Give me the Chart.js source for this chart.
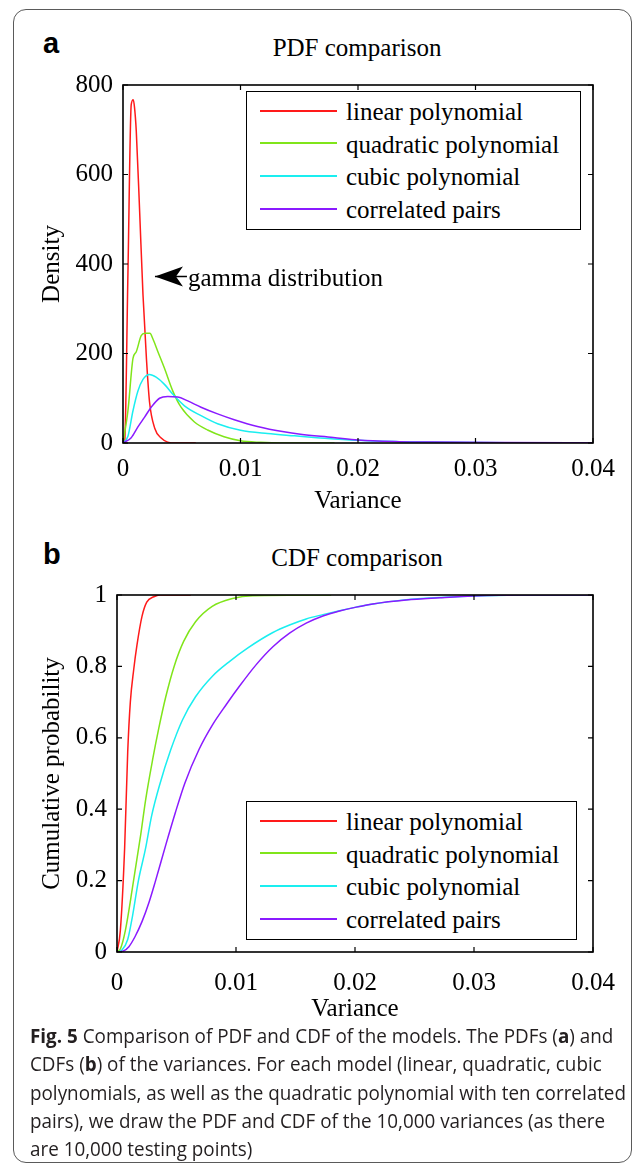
<!DOCTYPE html>
<html>
<head>
<meta charset="utf-8">
<title>PDF and CDF comparison</title>
<script src="https://cdn.jsdelivr.net/npm/chart.js@4.4.1/dist/chart.umd.min.js"></script>
<style>
  html, body { margin: 0; padding: 0; background: #fff; }
  #page { position: relative; width: 636px; height: 1166px; overflow: hidden; }
  #frame { position: absolute; left: 13px; top: 9px; width: 619px; height: 1154px; border: 1.5px solid #5a5a5a; border-radius: 13px; box-sizing: border-box; }
  canvas { position: absolute; left: 0; }
  .serif { font-family: "Liberation Serif", "Times New Roman", serif; color: #000; }
  .panel { position: absolute; left: 43px; font: bold 29px/29px "Liberation Sans", Arial, sans-serif; color: #000; }
  .title { position: absolute; left: 207px; width: 300px; text-align: center; font-size: 25px; line-height: 25px; white-space: nowrap; }
  .legend { position: absolute; border: 1.5px solid #000; background: #fff; box-sizing: border-box; }
  .legend .sw { position: absolute; left: 13px; width: 77px; height: 2px; }
  .legend .lab { position: absolute; left: 99px; font-size: 25px; line-height: 25px; white-space: nowrap; }
  #caption { position: absolute; left: 30px; top: 1022px; font-family: "Open Sans", sans-serif; font-size: 20px; line-height: 28.3px; color: #231f20; transform-origin: 0 0; }
  #caption div { white-space: nowrap; }
  #caption span { display: inline-block; }
</style>
</head>
<body>
<div id="page">
  <div id="frame"></div>

  <div class="panel" style="top:29px">a</div>
  <div class="title serif" style="top:35px">PDF comparison</div>
  <canvas id="pdfChart" width="636" height="460" style="top:60px"></canvas>
  <div class="legend serif" id="pdfLegend" style="left:246px;top:91px;width:335px;height:139px"></div>

  <div class="panel" style="top:540px">b</div>
  <div class="title serif" style="top:545px">CDF comparison</div>
  <canvas id="cdfChart" width="636" height="460" style="top:570px"></canvas>
  <div class="legend serif" id="cdfLegend" style="left:246px;top:801px;width:331px;height:139px"></div>

  <div id="caption">
    <div><span><b>Fig. 5</b> Comparison of PDF and CDF of the models. The PDFs (<b>a</b>) and</span></div>
    <div><span>CDFs (<b>b</b>) of the variances. For each model (linear, quadratic, cubic</span></div>
    <div><span>polynomials, as well as the quadratic polynomial with ten correlated</span></div>
    <div><span>pairs), we draw the PDF and CDF of the 10,000 variances (as there</span></div>
    <div><span>are 10,000 testing points)</span></div>
  </div>
</div>

<script>
const SERIF = '"Liberation Serif", "Times New Roman", serif';

const seriesNames = ['linear polynomial', 'quadratic polynomial', 'cubic polynomial', 'correlated pairs'];
const seriesColors = ['#ff1a1a', '#80e51a', '#1aeef0', '#8a1aff'];

const xTickVals = [0, 0.01, 0.02, 0.03, 0.04];
const xTickLabels = ['0', '0.01', '0.02', '0.03', '0.04'];
const pdfTickVals = [0, 200, 400, 600, 800];
const pdfTickLabels = ['0', '200', '400', '600', '800'];
const cdfTickVals = [0, 0.2, 0.4, 0.6, 0.8, 1];
const cdfTickLabels = ['0', '0.2', '0.4', '0.6', '0.8', '1'];

// panel a: densities
const pdfLinearX = [0, 0.00014, 0.00042, 0.0007, 0.00087, 0.00098, 0.00113, 0.00142, 0.0017, 0.002, 0.00226, 0.0027, 0.00325, 0.0038, 0.0045, 0.0062];
const pdfLinearY = [0, 3, 379, 756, 767, 750, 697, 515, 332, 186, 91, 33, 11, 2, 0, 0];
const pdfQuadX = [0, 0.00042, 0.00085, 0.00113, 0.00155, 0.00186, 0.00229, 0.00254, 0.00297, 0.00353, 0.00424, 0.00494, 0.00608, 0.0072, 0.0086, 0.01, 0.0117, 0.0135, 0.018];
const pdfQuadY = [0, 72, 189, 204, 240, 245, 245, 233, 204, 167, 116, 80, 47, 29, 14, 5, 1.5, 0, 0];
const pdfCubicX = [0, 0.00042, 0.00085, 0.00127, 0.0017, 0.00226, 0.00282, 0.00353, 0.00424, 0.00523, 0.00664, 0.00805, 0.01, 0.0123, 0.0146, 0.0165, 0.0198, 0.0235, 0.0277, 0.033, 0.04];
const pdfCubicY = [0, 15, 72, 116, 142, 153, 147, 131, 109, 83, 61, 43, 28.5, 21, 16, 12, 6, 3, 1.5, 0.7, 0.3];
const pdfPairsX = [0, 0.0007, 0.00127, 0.00184, 0.0024, 0.00311, 0.00381, 0.00466, 0.00551, 0.00664, 0.00805, 0.00947, 0.01144, 0.0137, 0.0151, 0.0179, 0.02, 0.0235, 0.0263, 0.032, 0.04];
const pdfPairsY = [0, 12, 36, 58, 80, 100, 104, 103, 94, 80, 65, 52, 37, 25, 19.7, 12.5, 6.6, 3, 2, 1, 0.5];

// panel b: cumulative
const cdfLinearX = [0, 0.00028, 0.00064, 0.0009, 0.00112, 0.0014, 0.00168, 0.0021, 0.0025, 0.0031, 0.0036, 0.0062];
const cdfLinearY = [0, 0.06, 0.29, 0.56, 0.70, 0.79, 0.86, 0.94, 0.98, 0.995, 1, 1];
const cdfQuadX = [0, 0.0003, 0.0007, 0.0013, 0.002, 0.0024, 0.003, 0.0035, 0.0041, 0.0048, 0.0056, 0.0066, 0.008, 0.0097, 0.0114, 0.018];
const cdfQuadY = [0, 0.01, 0.06, 0.18, 0.33, 0.425, 0.54, 0.625, 0.715, 0.8, 0.87, 0.925, 0.968, 0.99, 0.998, 1];
const cdfCubicX = [0, 0.0004, 0.0009, 0.0013, 0.0018, 0.0024, 0.0029, 0.0036, 0.0045, 0.0055, 0.0066, 0.008, 0.0095, 0.011, 0.0131, 0.0145, 0.0159, 0.0173, 0.0187, 0.0201, 0.0215, 0.0243, 0.0271, 0.0299, 0.034, 0.04];
const cdfCubicY = [0, 0.005, 0.035, 0.1, 0.2, 0.29, 0.38, 0.47, 0.565, 0.65, 0.715, 0.772, 0.815, 0.852, 0.895, 0.916, 0.933, 0.945, 0.956, 0.966, 0.975, 0.987, 0.993, 0.997, 1, 1];
const cdfPairsX = [0, 0.0005, 0.001, 0.0015, 0.0021, 0.0027, 0.0032, 0.0041, 0.0049, 0.0057, 0.0069, 0.008, 0.0092, 0.0103, 0.0117, 0.0131, 0.0145, 0.0159, 0.0173, 0.0187, 0.0201, 0.0215, 0.0243, 0.0271, 0.0299, 0.0341, 0.04];
const cdfPairsY = [0, 0.002, 0.015, 0.042, 0.085, 0.14, 0.195, 0.3, 0.39, 0.473, 0.568, 0.635, 0.694, 0.745, 0.805, 0.855, 0.893, 0.921, 0.941, 0.955, 0.966, 0.975, 0.986, 0.992, 0.997, 1, 1];

const gammaText = 'gamma distribution';
const gammaAt = [0.00272, 372];

// matlab style box with inward ticks on all four sides
const boxTicks = {
  id: 'boxTicks',
  afterDatasetsDraw(chart) {
    const { ctx, chartArea: a, scales: { x, y } } = chart;
    ctx.save();
    ctx.strokeStyle = '#000';
    ctx.lineWidth = 1.2;
    ctx.beginPath();
    x.ticks.forEach(t => {
      const px = x.getPixelForValue(t.value);
      ctx.moveTo(px, a.bottom); ctx.lineTo(px, a.bottom - 5);
      ctx.moveTo(px, a.top); ctx.lineTo(px, a.top + 5);
    });
    y.ticks.forEach(t => {
      const py = y.getPixelForValue(t.value);
      ctx.moveTo(a.left, py); ctx.lineTo(a.left + 5, py);
      ctx.moveTo(a.right, py); ctx.lineTo(a.right - 5, py);
    });
    ctx.stroke();
    ctx.lineWidth = 1.6;
    ctx.strokeRect(a.left, a.top, a.right - a.left, a.bottom - a.top);
    ctx.restore();
  }
};

const gammaNote = {
  id: 'gammaNote',
  afterDraw(chart) {
    const { ctx, scales: { x, y } } = chart;
    const tx = x.getPixelForValue(gammaAt[0]);
    const ty = y.getPixelForValue(gammaAt[1]);
    ctx.save();
    ctx.fillStyle = '#000';
    ctx.strokeStyle = '#000';
    ctx.lineWidth = 1.5;
    ctx.beginPath();
    ctx.moveTo(tx, ty); ctx.lineTo(tx + 32, ty);
    ctx.stroke();
    ctx.beginPath();
    ctx.moveTo(tx, ty);
    ctx.lineTo(tx + 28, ty - 10);
    ctx.lineTo(tx + 21, ty);
    ctx.lineTo(tx + 28, ty + 10);
    ctx.closePath();
    ctx.fill();
    ctx.font = '25px ' + SERIF;
    ctx.textAlign = 'left';
    ctx.textBaseline = 'alphabetic';
    ctx.fillText(gammaText, tx + 33, ty + 9.5);
    ctx.restore();
  }
};

function drawPanel(canvasId, xs, ys, cfg) {
  const datasets = seriesNames.map((name, i) => ({
    label: name,
    data: xs[i].map((v, j) => ({ x: v, y: ys[i][j] })),
    borderColor: seriesColors[i],
    borderWidth: 1.5,
    pointRadius: 0,
    cubicInterpolationMode: 'monotone',
    fill: false,
    order: seriesNames.length - i
  }));
  const tickFont = { family: SERIF, size: 25 };
  return new Chart(document.getElementById(canvasId), {
    type: 'line',
    data: { datasets },
    plugins: cfg.plugins,
    options: {
      responsive: false,
      animation: false,
      events: [],
      layout: { padding: { top: cfg.padTop, right: 43, left: 0, bottom: 0 } },
      plugins: { legend: { display: false }, tooltip: { enabled: false } },
      scales: {
        x: {
          type: 'linear', min: 0, max: 0.04,
          grid: { display: false, drawTicks: false },
          border: { display: false },
          afterBuildTicks: s => { s.ticks = xTickVals.map(v => ({ value: v })); },
          afterFit: s => { s.height = cfg.xHeight; },
          ticks: { autoSkip: false, maxRotation: 0, padding: cfg.xPad, color: '#000', font: tickFont,
                   callback: (v, i) => xTickLabels[i] },
          title: { display: true, text: 'Variance', color: '#000', font: tickFont,
                   padding: { top: 0, bottom: cfg.xTitlePad } }
        },
        y: {
          type: 'linear', min: cfg.yVals[0], max: cfg.yVals[cfg.yVals.length - 1],
          grid: { display: false, drawTicks: false },
          border: { display: false },
          afterBuildTicks: s => { s.ticks = cfg.yVals.map(v => ({ value: v })); },
          afterFit: s => { s.width = cfg.left; },
          ticks: { autoSkip: false, padding: 10, color: '#000', font: tickFont,
                   callback: (v, i) => cfg.yLabels[i] },
          title: { display: true, text: cfg.yTitle, color: '#000', font: tickFont,
                   padding: { top: cfg.yTitlePad, bottom: 0 } }
        }
      }
    }
  });
}

function buildLegend(id) {
  const box = document.getElementById(id);
  seriesNames.forEach((name, i) => {
    const lineY = 18.5 + i * 32.7;
    const sw = document.createElement('div');
    sw.className = 'sw';
    sw.style.top = (lineY - 1) + 'px';
    sw.style.background = seriesColors[i];
    const lab = document.createElement('div');
    lab.className = 'lab';
    lab.style.top = (lineY - 11.6) + 'px';
    lab.textContent = name;
    box.appendChild(sw);
    box.appendChild(lab);
  });
}

drawPanel('pdfChart',
  [pdfLinearX, pdfQuadX, pdfCubicX, pdfPairsX],
  [pdfLinearY, pdfQuadY, pdfCubicY, pdfPairsY],
  { padTop: 18, xHeight: 77, xPad: 11, xTitlePad: 4, left: 123,
    yVals: pdfTickVals, yLabels: pdfTickLabels, yTitle: 'Density', yTitlePad: 37,
    plugins: [boxTicks, gammaNote] });

drawPanel('cdfChart',
  [cdfLinearX, cdfQuadX, cdfCubicX, cdfPairsX],
  [cdfLinearY, cdfQuadY, cdfCubicY, cdfPairsY],
  { padTop: 16.7, xHeight: 78, xPad: 16, xTitlePad: 6, left: 117,
    yVals: cdfTickVals, yLabels: cdfTickLabels, yTitle: 'Cumulative probability', yTitlePad: 37,
    plugins: [boxTicks] });

buildLegend('pdfLegend');
buildLegend('cdfLegend');

// squeeze caption so its longest line matches the reference line length
function fitCaption() {
  const cap = document.getElementById('caption');
  cap.style.transform = 'none';
  let w = 0;
  cap.querySelectorAll('span').forEach(s => { w = Math.max(w, s.getBoundingClientRect().width); });
  cap.style.transform = 'scaleX(' + (596 / w) + ')';
}
fitCaption();
if (document.fonts) document.fonts.ready.then(fitCaption);
</script>
</body>
</html>
